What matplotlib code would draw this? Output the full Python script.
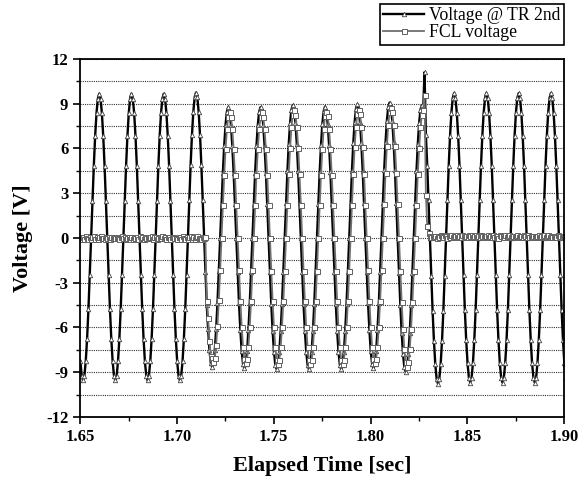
import numpy as np
import matplotlib
matplotlib.use("Agg")
import matplotlib.pyplot as plt
from matplotlib.ticker import MultipleLocator, FormatStrFormatter

plt.rcParams['font.family'] = ['Liberation Serif', 'DejaVu Serif']
plt.rcParams['axes.unicode_minus'] = False

# sample clock of the record (24 samples per 60 Hz cycle)
T_START = 1.6501
FS = 1440.0

# Voltage @ TR 2nd, one row per cycle (trough -> peak -> trough)
tr_lead = [-8.27, -9.23]
tr_pre = [
    -9.55, -9.23, -8.27, -6.75, -4.78, -2.47, 0.0, 2.5, 4.83, 6.83, 8.37, 9.33, 9.66, 9.33, 8.37, 6.83, 4.83, 2.5, 0.0, -2.47, -4.78, -6.75, -8.27, -9.23,
    -9.55, -9.23, -8.27, -6.75, -4.78, -2.47, 0.0, 2.5, 4.83, 6.83, 8.37, 9.33, 9.66, 9.33, 8.37, 6.83, 4.83, 2.5, 0.0, -2.47, -4.78, -6.75, -8.27, -9.23,
    -9.55, -9.23, -8.27, -6.75, -4.78, -2.47, 0.0, 2.5, 4.83, 6.83, 8.37, 9.33, 9.66, 9.33, 8.37, 6.83, 4.83, 2.5, 0.0, -2.47, -4.78, -6.75, -8.27, -9.23,
    -9.55, -9.23, -8.27, -6.75, -4.78, -2.47, 0.0, 2.52, 4.87, 6.89, 8.43, 9.41, 9.74, 9.41, 8.43, 6.89, 4.87, 2.52, 0.0, -2.3, -4.5, -6.1, -7.5, -8.36,
]
tr_fault = [
    -8.65, -8.36, -7.49, -6.12, -4.33, -2.24, 0.0, 2.27, 4.38, 6.19, 7.59, 8.46, 8.76, 8.46, 7.59, 6.19, 4.38, 2.27, 0.0, -2.27, -4.38, -6.19, -7.58, -8.45,
    -8.75, -8.45, -7.58, -6.19, -4.38, -2.27, 0.0, 2.27, 4.38, 6.19, 7.59, 8.46, 8.76, 8.46, 7.59, 6.19, 4.38, 2.27, 0.0, -2.28, -4.4, -6.22, -7.62, -8.5,
    -8.8, -8.5, -7.62, -6.22, -4.4, -2.28, 0.0, 2.31, 4.45, 6.29, 7.71, 8.6, 8.9, 8.6, 7.71, 6.29, 4.45, 2.31, 0.0, -2.28, -4.4, -6.22, -7.62, -8.5,
    -8.8, -8.5, -7.62, -6.22, -4.4, -2.28, 0.0, 2.28, 4.4, 6.22, 7.62, 8.5, 8.8, 8.5, 7.62, 6.22, 4.4, 2.28, 0.0, -2.28, -4.4, -6.22, -7.62, -8.5,
    -8.8, -8.5, -7.62, -6.22, -4.4, -2.28, 0.0, 2.32, 4.48, 6.33, 7.75, 8.65, 8.95, 8.65, 7.75, 6.33, 4.48, 2.32, 0.0, -2.27, -4.38, -6.19, -7.58, -8.45,
    -8.75, -8.45, -7.58, -6.19, -4.38, -2.27, 0.0, 2.35, 4.54, 6.41, 7.85, 8.76, 9.07, 8.76, 7.85, 6.41, 4.54, 2.35, 0.0, -2.33, -4.49, -6.35, -7.78, -8.67,
    -8.98, -8.67, -7.78, -6.35, -4.49, -2.33, 0.0, 2.31, 4.45, 6.29, 7.71, 8.6, 8.9, 8.6, 11.1, 6.9, 4.85, 2.51, 0.0, -2.53, -4.89, -6.91, -8.46, -9.44,
]
tr_post = [
    -9.77, -9.44, -8.46, -6.91, -4.89, -2.53, 0.0, 2.51, 4.85, 6.86, 8.4, 9.37, 9.7, 9.37, 8.4, 6.86, 4.85, 2.51, 0.0, -2.51, -4.85, -6.86, -8.4, -9.37,
    -9.7, -9.37, -8.4, -6.86, -4.85, -2.51, 0.0, 2.51, 4.85, 6.86, 8.4, 9.37, 9.7, 9.37, 8.4, 6.86, 4.85, 2.51, 0.0, -2.51, -4.85, -6.86, -8.4, -9.37,
    -9.7, -9.37, -8.4, -6.86, -4.85, -2.51, 0.0, 2.51, 4.85, 6.86, 8.4, 9.37, 9.7, 9.37, 8.4, 6.86, 4.85, 2.51, 0.0, -2.51, -4.85, -6.86, -8.4, -9.37,
    -9.7, -9.37, -8.4, -6.86, -4.85, -2.51, 0.0, 2.51, 4.85, 6.86, 8.4, 9.37, 9.7, 9.37, 8.4, 6.86, 4.85, 2.51, 0.0, -2.51, -4.85, -6.86, -8.4, -9.37,
]

# FCL voltage, same sample instants
fcl_lead = [0.03, -0.06]
fcl_pre = [
    0.05, -0.08, 0.1, 0.02, -0.06, 0.08, -0.1, 0.04, 0.11, -0.05, 0.03, -0.09, 0.06, 0.1, -0.04, 0.02, -0.08, 0.07, 0.0, 0.05, -0.07, 0.09, -0.02, 0.04,
    -0.04, 0.07, 0.01, -0.09, 0.06, 0.12, -0.03, 0.05, -0.08, 0.02, 0.09, -0.06, 0.03, -0.1, 0.08, 0.0, 0.06, -0.05, 0.1, -0.02, 0.04, -0.08, 0.07, 0.01,
    0.08, -0.02, 0.05, 0.1, -0.07, 0.03, 0.06, -0.09, 0.02, 0.07, -0.04, 0.1, -0.01, 0.05, -0.08, 0.09, 0.03, -0.06, 0.04, 0.08, -0.03, 0.02, -0.1, 0.06,
    0.05, -0.08, 0.1, 0.02, -0.05, 0.08, -0.1, 0.04, 0.1, -0.06, 0.03, -0.08, 0.06, 0.1, -0.04, 0.02, -0.09, 0.07, 0.0, 0.05, -4.2, -5.4, -6.9, -7.9,
]
fcl_fault = [
    -8.03, -8.3, -8.03, -7.19, -5.88, -4.16, -2.15, 0.0, 2.18, 4.2, 5.94, 7.29, 8.12, 8.41, 8.12, 7.29, 5.94, 4.2, 2.18, 0.0, -2.18, -4.2, -5.94, -7.28,
    -8.11, -8.4, -8.11, -7.28, -5.94, -4.2, -2.18, 0.0, 2.18, 4.2, 5.94, 7.29, 8.12, 8.41, 8.12, 7.29, 5.94, 4.2, 2.18, 0.0, -2.19, -4.22, -5.97, -7.32,
    -8.16, -8.45, -8.16, -7.32, -5.97, -4.22, -2.19, 0.0, 2.22, 4.27, 6.04, 7.4, 8.26, 8.54, 8.26, 7.4, 6.04, 4.27, 2.22, 0.0, -2.19, -4.22, -5.97, -7.32,
    -8.16, -8.45, -8.16, -7.32, -5.97, -4.22, -2.19, 0.0, 2.19, 4.22, 5.97, 7.32, 8.16, 8.45, 8.16, 7.32, 5.97, 4.22, 2.19, 0.0, -2.19, -4.22, -5.97, -7.32,
    -8.16, -8.45, -8.16, -7.32, -5.97, -4.22, -2.19, 0.0, 2.23, 4.3, 6.08, 7.44, 8.3, 8.59, 8.3, 7.44, 6.08, 4.3, 2.23, 0.0, -2.18, -4.2, -5.94, -7.28,
    -8.11, -8.4, -8.11, -7.28, -5.94, -4.2, -2.18, 0.0, 2.26, 4.36, 6.15, 7.54, 8.41, 8.71, 8.41, 7.54, 6.15, 4.36, 2.26, 0.0, -2.24, -4.31, -6.1, -7.47,
    -8.32, -8.62, -8.32, -7.47, -6.1, -4.31, -2.24, 0.0, 2.22, 4.27, 6.04, 7.4, 8.26, 8.54, 9.6, 2.9, 0.8, 0.35, 0.12, 0.05, 0.15, 0.08, 0.1, 0.02,
]
fcl_post = [
    0.15, 0.08, 0.2, 0.1, 0.05, 0.18, 0.12, 0.02, 0.16, 0.09, 0.22, 0.06, 0.13, 0.1, 0.19, 0.04, 0.14, 0.08, 0.17, 0.11, 0.03, 0.15, 0.09, 0.2,
    0.1, 0.17, 0.05, 0.12, 0.21, 0.07, 0.14, 0.03, 0.18, 0.1, 0.06, 0.16, 0.12, 0.2, 0.04, 0.13, 0.09, 0.19, 0.07, 0.15, 0.11, 0.02, 0.17, 0.1,
    0.12, 0.05, 0.18, 0.09, 0.14, 0.2, 0.06, 0.11, 0.16, 0.03, 0.13, 0.19, 0.08, 0.15, 0.1, 0.04, 0.17, 0.12, 0.07, 0.2, 0.09, 0.14, 0.05, 0.16,
    0.08, 0.15, 0.11, 0.19, 0.04, 0.13, 0.1, 0.17, 0.06, 0.12, 0.2, 0.09, 0.14, 0.03, 0.16, 0.11, 0.07, 0.18, 0.1, 0.13, 0.05, 0.15, 0.09, 0.12,
]

x_ticks = [1.65, 1.70, 1.75, 1.80, 1.85, 1.90]
y_ticks = [-12, -9, -6, -3, 0, 3, 6, 9, 12]

v_tr = np.array(tr_lead + tr_pre + tr_fault + tr_post)
v_fcl = np.array(fcl_lead + fcl_pre + fcl_fault + fcl_post)
t = T_START + np.arange(len(v_tr)) / FS

fig = plt.figure(figsize=(5.81, 4.86), dpi=100)
ax = fig.add_axes([0.138, 0.142, 0.833, 0.737])

l1, = ax.plot(t, v_tr, color='black', lw=1.7, marker='^', ms=3.2,
              mfc='white', mec='#444444', mew=0.6, label='Voltage @ TR 2nd')
l2, = ax.plot(t, v_fcl, color='#707070', lw=1.3, marker='s', ms=3.6,
              mfc='white', mec='#606060', mew=0.7, label='FCL voltage')

ax.set_xlim(1.65, 1.90)
ax.set_ylim(-12, 12)
ax.set_xticks(x_ticks)
ax.set_yticks(y_ticks)
ax.xaxis.set_minor_locator(MultipleLocator(0.025))
ax.yaxis.set_minor_locator(MultipleLocator(1.5))
ax.xaxis.set_major_formatter(FormatStrFormatter('%.2f'))
ax.yaxis.grid(True, which='both', linestyle=(0, (1, 1)), color='#333333', lw=0.8)
ax.set_axisbelow(True)

ax.tick_params(which='major', direction='out', length=5, width=1.2, labelsize=12)
ax.tick_params(which='minor', direction='out', length=3, width=1.0)
for lab in ax.get_xticklabels() + ax.get_yticklabels():
    lab.set_fontweight('bold')
for sp in ax.spines.values():
    sp.set_linewidth(1.3)

ax.set_xlabel('Elapsed Time [sec]', fontsize=16, fontweight='bold', labelpad=8)
ax.set_ylabel('Voltage [V]', fontsize=16, fontweight='bold', labelpad=9)

leg = fig.legend(handles=[l1, l2], loc='upper right', bbox_to_anchor=(0.971, 0.992),
                 borderaxespad=0, fancybox=False, edgecolor='black', framealpha=1,
                 prop={'family': 'Liberation Serif', 'size': 12.7},
                 handlelength=2.3, borderpad=0.2, labelspacing=0.0, handletextpad=0.3)
leg.get_frame().set_linewidth(1.2)

fig.savefig('out.png', dpi=100)
